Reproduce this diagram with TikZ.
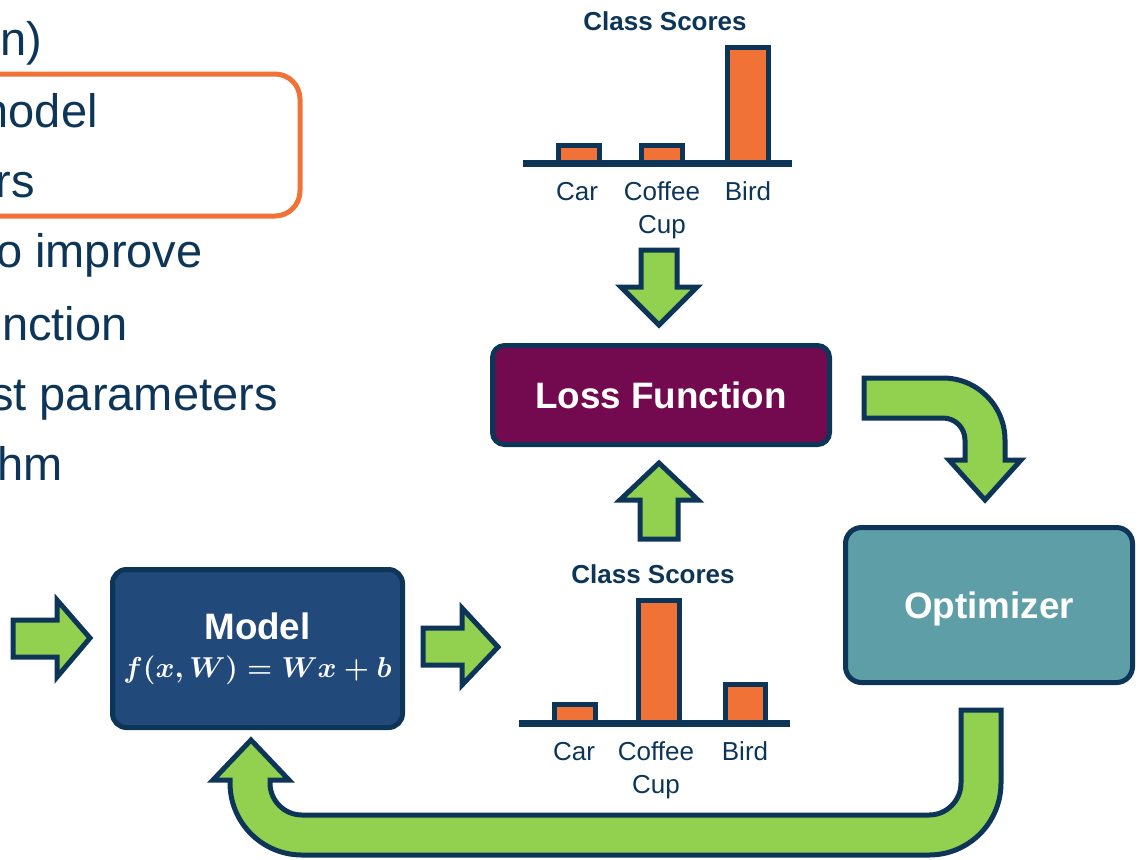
\documentclass[tikz,border=0pt]{standalone}
\usepackage{fontspec}
\setmainfont{Liberation Sans}
\usepackage{amsmath,bm}
\usetikzlibrary{positioning}

\definecolor{navy}{RGB}{13,53,88}
\definecolor{modelblue}{RGB}{33,73,122}
\definecolor{lossplum}{RGB}{115,10,79}
\definecolor{optteal}{RGB}{94,158,166}
\definecolor{arrowgreen}{RGB}{146,208,80}
\definecolor{scoreorange}{RGB}{240,114,54}

\begin{document}
\begin{tikzpicture}[x=0.5pt,y=-0.5pt,
  box/.style={draw=navy,line width=2.5pt,rounded corners=7pt,text=white,
    font=\fontsize{18.4}{22}\selectfont\bfseries,inner sep=0pt},
  greenarrow/.style={fill=arrowgreen,draw=navy,line width=2.5pt,line join=miter},
  scorebar/.style={fill=scoreorange,draw=navy,line width=2.5pt},
  axisline/.style={draw=navy,line width=3.5pt},
  catlabel/.style={text=navy,font=\fontsize{13}{15}\selectfont,anchor=base,inner sep=0pt},
  charttitle/.style={text=navy,font=\fontsize{13}{15}\selectfont\bfseries,anchor=base,inner sep=0pt},
  listtext/.style={text=navy,font=\fontsize{23.5}{28}\selectfont,anchor=base east,inner sep=0pt}]
\useasboundingbox (0,0) rectangle (1140,859);

% bullet text cut at the left edge
\foreach \t/\xr/\yb in {on)/43/55, model/98/127, rs/35/197, o improve/203/267,
    nction/128/340, st parameters/278/410, hm/63/480}
  \node[listtext] at (\xr,\yb) {\t};
\draw[draw=scoreorange,line width=2.5pt,rounded corners=12.5pt] (-30,74) rectangle (300,216);

% boxes
\node[box,fill=modelblue,minimum width=145pt,minimum height=79pt,align=center] (model) at (257.5,648.5)
  {Model\\[-3pt]{\fontsize{14}{17}\selectfont\boldmath$f(x,W)=Wx+b$}};
\node[box,fill=lossplum,minimum width=168.5pt,minimum height=49.5pt,rounded corners=6pt] (loss) at (661,395) {Loss Function};
\node[box,fill=optteal,minimum width=143.5pt,minimum height=77.5pt,rounded corners=8pt,text depth=0pt] (optim) at (989,605)
  {Optimizer};

% upper chart
\node[charttitle] (titleA) at (665,30) {Class Scores};
\foreach \xa/\xb/\yt in {558.5/599.5/145.5, 641.5/682.5/145.5, 727.5/768.5/47}
  \draw[scorebar] (\xa,163) rectangle (\xb,\yt);
\draw[axisline] (523,163) -- (792,163);
\node[catlabel] (carA) at (577,200) {Car};
\node[catlabel] (coffeeA) at (662,200) {Coffee};
\node[catlabel] (cupA) at (662,233) {Cup};
\node[catlabel] (birdA) at (748,200) {Bird};

% lower chart
\node[charttitle] (titleB) at (653,583) {Class Scores};
\foreach \xa/\xb/\yt in {554.5/595.5/704.5, 638.5/679.5/600.5, 725.5/765.5/684.5}
  \draw[scorebar] (\xa,723) rectangle (\xb,\yt);
\draw[axisline] (519,723) -- (790,723);
\node[catlabel] (carB) at (574,760) {Car};
\node[catlabel] (coffeeB) at (656,760) {Coffee};
\node[catlabel] (cupB) at (656,793) {Cup};
\node[catlabel] (birdB) at (745,760) {Bird};

% block arrows
\draw[greenarrow] (13,620) -- (57,620) -- (57,600) -- (90,638) -- (57,677) -- (57,657) -- (13,657) -- cycle;
\draw[greenarrow] (423,628) -- (462,628) -- (462,608) -- (498,647) -- (462,685) -- (462,665) -- (423,665) -- cycle;
\draw[greenarrow] (641,250) -- (677,250) -- (677,287) -- (697,287) -- (659,325) -- (621,287) -- (641,287) -- cycle;
\draw[greenarrow] (640,539) -- (678,539) -- (678,500) -- (698,500) -- (659,463) -- (620,500) -- (640,500) -- cycle;
\draw[greenarrow] (864,378) -- (943,378) arc[start angle=-90,end angle=0,radius=62]
  -- (1005,460) -- (1021,460) -- (985,500) -- (949,460) -- (965,460) -- (965,440)
  arc[start angle=0,end angle=-90,radius=22] -- (864,418) -- cycle;
\draw[greenarrow] (961,710) -- (1001,710) -- (1001,783) arc[start angle=0,end angle=90,radius=72]
  -- (302,855) arc[start angle=90,end angle=180,radius=72] -- (230,780) -- (213,780) -- (251,740)
  -- (289,780) -- (270,780) -- (270,783) arc[start angle=180,end angle=90,radius=32]
  -- (929,815) arc[start angle=90,end angle=0,radius=32] -- cycle;
\end{tikzpicture}
\end{document}
